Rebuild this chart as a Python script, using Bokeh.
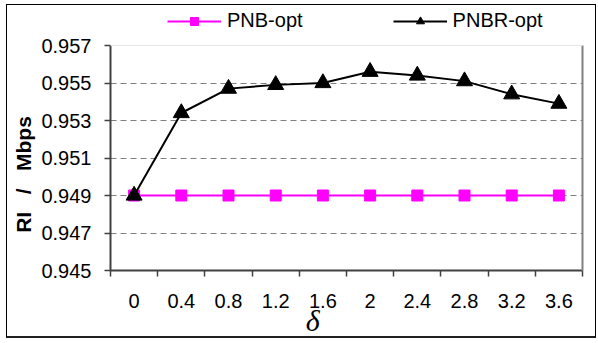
from bokeh.plotting import figure
from bokeh.models import FixedTicker, Legend, LegendItem, Span, LinearAxis
from bokeh.embed import file_html
from bokeh.resources import INLINE

# ---- data ----
delta = [0, 0.4, 0.8, 1.2, 1.6, 2.0, 2.4, 2.8, 3.2, 3.6]
x_labels = ["0", "0.4", "0.8", "1.2", "1.6", "2", "2.4", "2.8", "3.2", "3.6"]
pnb_opt = [0.949, 0.949, 0.949, 0.949, 0.949, 0.949, 0.949, 0.949, 0.949, 0.949]
pnbr_opt = [0.9490, 0.9534, 0.9547, 0.9549, 0.9550, 0.9556, 0.9554, 0.9551, 0.9544, 0.9539]
y_ticks = [0.945, 0.947, 0.949, 0.951, 0.953, 0.955, 0.957]
y_labels = ["0.945", "0.947", "0.949", "0.951", "0.953", "0.955", "0.957"]

FONT = "Liberation Sans"
DARK = "#404040"
NB = "\u00a0"

half = (delta[1] - delta[0]) / 2
x_start, x_end = delta[0] - half, delta[-1] + half
y_lo, y_hi = y_ticks[0], y_ticks[-1]
# frame extends 37px above the top tick (225px span) to hold the legend
y_top = y_hi + (y_hi - y_lo) * 37 / 225

p = figure(width=590, height=334,
           x_range=(x_start, x_end), y_range=(y_lo, y_top),
           min_border_left=103, min_border_right=15,
           min_border_top=3, min_border_bottom=69,
           output_backend="svg", toolbar_location=None)
p.styles = {"margin-left": "6px", "margin-top": "4px",
            "border": "1px solid #000000", "border-bottom": "2px solid #202020"}
p.background_fill_color = "white"
p.border_fill_color = "white"
p.outline_line_color = None

# grid
p.xgrid.visible = False
p.ygrid.ticker = FixedTicker(ticks=y_ticks[1:-1])
p.ygrid.grid_line_color = "#808080"
p.ygrid.grid_line_dash = "6 4"
p.ygrid.grid_line_width = 1

# x axis
xa = p.xaxis[0]
xa.ticker = FixedTicker(ticks=delta,
                        minor_ticks=[d - half for d in delta] + [delta[-1] + half])
xa.major_label_overrides = {d: l for d, l in zip(delta, x_labels)}
xa.major_tick_line_color = None
xa.major_tick_out = 0
xa.major_tick_in = 0
xa.minor_tick_out = 6
xa.minor_tick_in = 0
xa.minor_tick_line_color = DARK
xa.minor_tick_line_width = 1.5
xa.axis_line_color = DARK
xa.axis_line_width = 2
xa.major_label_text_font = FONT
xa.major_label_text_font_size = "20px"
xa.major_label_text_color = "black"
xa.major_label_standoff = 17
xa.axis_label = "δ" + NB * 9
xa.axis_label_text_font = "Liberation Serif"
xa.axis_label_text_font_style = "italic"
xa.axis_label_text_font_size = "30px"
xa.axis_label_text_color = "black"
xa.axis_label_standoff = -7

# y axis
ya = p.yaxis[0]
ya.bounds = (y_lo, y_hi)
ya.ticker = FixedTicker(ticks=y_ticks)
ya.major_label_overrides = {t: l for t, l in zip(y_ticks, y_labels)}
ya.major_tick_out = 6
ya.major_tick_in = 0
ya.major_tick_line_color = DARK
ya.major_tick_line_width = 1.5
ya.minor_tick_line_color = None
ya.axis_line_color = DARK
ya.axis_line_width = 2
ya.major_label_text_font = FONT
ya.major_label_text_font_size = "20px"
ya.major_label_text_color = "black"
ya.major_label_standoff = 13
ya.axis_label = "RI" + NB * 3 + "/" + NB * 3 + "Mbps" + NB * 12
ya.axis_label_text_font = FONT
ya.axis_label_text_font_size = "21px"
ya.axis_label_text_font_style = "bold"
ya.axis_label_text_color = "black"
ya.axis_label_standoff = 3

# right edge of the plot area (gray) and faint top edge
ra = LinearAxis(ticker=FixedTicker(ticks=[]), bounds=(y_lo, y_hi),
                axis_line_color="#808080", axis_line_width=2,
                major_tick_line_color=None, minor_tick_line_color=None,
                major_label_text_font_size="0px")
p.add_layout(ra, "right")
p.add_layout(Span(location=y_hi, dimension="width", line_color="#e6e6e6", line_width=1))

# series
l1 = p.line(delta, pnb_opt, line_color="#ff00ff", line_width=2)
m1 = p.scatter(delta, pnb_opt, marker="square", size=11,
               fill_color="#ff00ff", line_color="#ff00ff")
l2 = p.line(delta, pnbr_opt, line_color="black", line_width=2)
m2 = p.scatter(delta, pnbr_opt, marker="triangle", size=16,
               fill_color="black", line_color="black")

legend = Legend(items=[LegendItem(label="PNB-opt", renderers=[l1, m1]),
                       LegendItem(label="PNBR-opt", renderers=[l2, m2])],
                orientation="horizontal", location=(57, 238),
                glyph_width=54, glyph_height=20, label_height=20,
                label_standoff=6, spacing=90, padding=0, margin=0,
                border_line_color=None, background_fill_alpha=0,
                label_text_font=FONT, label_text_font_size="20px",
                label_text_color="black")
p.add_layout(legend)

open("out.html", "w").write(file_html(p, INLINE))
